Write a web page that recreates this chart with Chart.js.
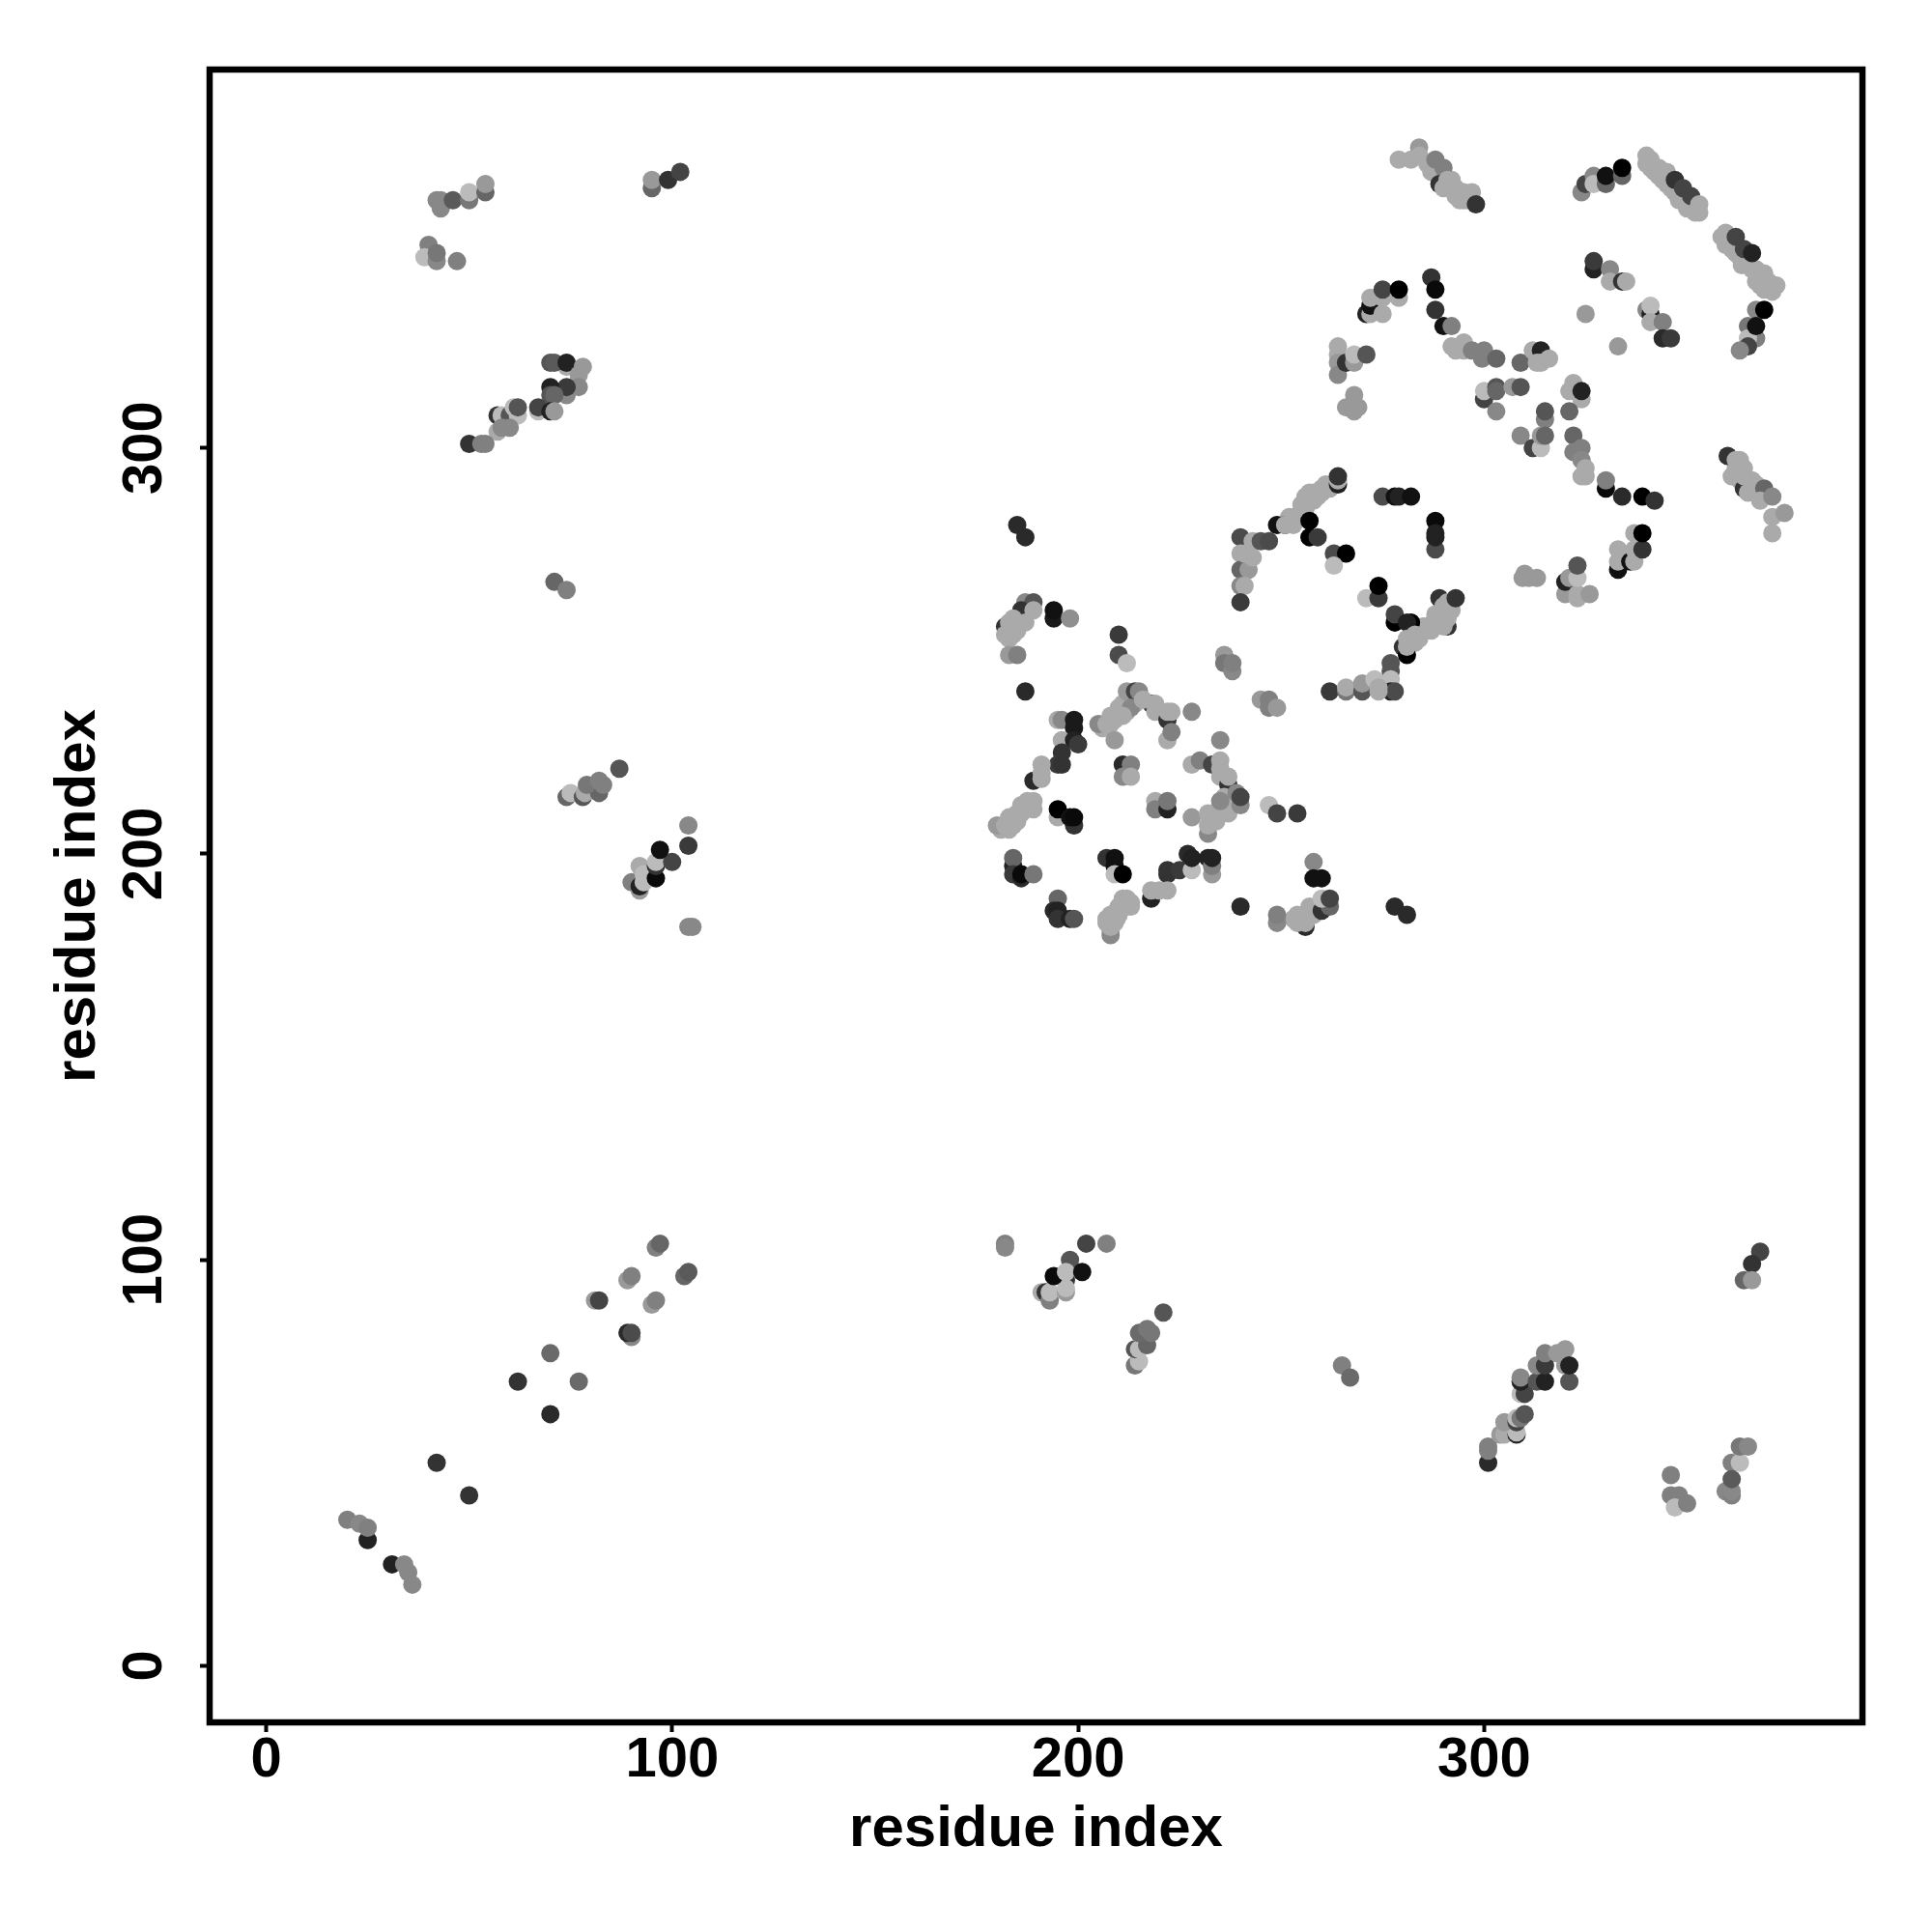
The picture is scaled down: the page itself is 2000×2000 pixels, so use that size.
<!DOCTYPE html>
<html><head><meta charset="utf-8">
<style>html,body{margin:0;padding:0;background:#fff}canvas{display:block}</style>
<script src="https://cdn.jsdelivr.net/npm/chart.js@4"></script>
</head><body>
<div style="width:2000px;height:2000px"><canvas id="c" width="2000" height="2000"></canvas></div>
<script>
// every contact: [residue i, residue j, grey level]
const denseBandContacts=[[291,256,51],[289,263,51],[290,257,34],
[341,371,170],[341,369,170],[343,367,170],[345,368,170],[345,365,170],[347,363,170],[349,361,170],[351,360,170],[353,358,170],
[360,351,170],[362,348,170],[363,347,170],[365,346,170],[367,344,170],[368,342,170],[370,341,170],[371,340,170],[371,338.5,170],[368,340,170],
[286,370,170],[288,368,170],[289,367,170],[291,365,170],[292,366,170],[293,364,170],[294,361,170],[295,361,170],
[362,295,170],[364,295,170],[363,292,170],[365,291,170],[366,290,170],[367,289,170],
[285,256,170],[286,256,170],[287,255,170],[288,257,170],[289,258,170],[290,259,170],[291,259,170],[291,261,170],[290,261,170],[291,258,170],
[282,252,170],[283,252,170],[284,253,170],
[255,284,170],[256,285,170],[258,287,170],[259,288,170],[260,289,170],[261,290,170],[262,290,170],[253,282,170],[252,283,170],
[181,206,170],[183,206,170],[185,208,170],[186,210,170],[187,211,170],[188,212,170],
[208,181,170],[207,183,170],[209,183,170],[208,185,170],[210,185,170],[210,187,170],[212,187,170],[212,188,170],[213,188,170],
[255,184,170],[255,183,170],[258,185,170],[259,187,170],[253,184,170],
[233,208,170],[235,210,170],[235,212,170],[237,210,170],[238,213,170],
[206,231,170],[208,232,170],[210,234,170],[212,235,170],[212,237,170],[211,237,170],[213,238,170],[214,237,170],
[184,256,170],[186,258,170],[184,254,170]];
const lowerLeftContacts=[[20,36,128],[23,35,136],[25,31,34],[25,34,128],[31,25,34],[34,25,136],[35,23,136],[36,20,136],
[42,50,51],[50,42,51],[62,70,51],[70,62,42],[70,77,106],[77,70,106],
[81,90,153],[82,90,68],[89,95,153],[90,96,128],[96,103,128],[97,104,102],[95,89,153],[96,90,128],[103,96,102],[104,97,90],[90,81,136],[89,82,42],[90,82,75]];
const lowerMiddleContacts=[[202,104,68],[207,104,128],[182,104,128],[182,103,136],[191,92,170],[192,92,51],[193,90,128],[193,92,187],[197,92,153],[197,95,51],[197,93,187],[194,96,10],[198,100,85],[197,97,187],[201,97,17],
[221,87,85],[214,74,119],[215,75,187],[214,78,85],[215,78,187],[217,79,102],[215,82,106],[217,83,119],[218,82,119],[265,74,128],[267,71,106]];
const lowerRightContacts=[[301,50,42],[301,53,128],[301,54,128],[304,57,153],[305,57,170],[308,57,34],[308,57.5,187],[305,60,153],[308,60,68],[308,61,187],[309,61,119],[310,62,85],
[309,67,187],[310,67,68],[309,70,34],[309,71,136],[313,70,85],[315,70,34],[313,74,136],[315,74,58],[315,77,128],[318,77,153],[320,78,153],[320,74,153],[321,70,85],[321,74,34],
[368,102,68],[366,99,51],[364,95,102],[366,95,153],
[346,47,128],[346,42,128],[348,42,128],[347,39,187],[350,40,128],[361,50,128],[363,50,187],[363,54,119],[365,54,136],[359.5,43,136],[361,42,128],[361,43,136],[361,46,90]];
const upperLeftContacts=[[42,361,136],[43,361,136],[43,359,136],[46,361,90],[50,361,119],[50,363,187],[54,363,102],[54,365,153],
[40,350,128],[39,347,187],[42,346,136],[42,348,119],[47,346,128],
[95,364,102],[95,366,153],[99,366,51],[102,368,68],
[74,320,170],[70,321,85],[71,321,90],[74,321,34],[78,320,153],[77,318,153],[77,315,136],[74,313,136],[74,315,58],[70,315,34],[70,313,85],[71,313,102],
[67,309,187],[67,310,68],[70,309,34],[71,309,153],
[57,308,51],[58,308,187],[60,308,85],[61,310,187],[62,308,187],[62,310,85],[57,304,170],[58,305,136],[60,305,136],
[50,301,51],[53,301,128],[54,301,128]];
const middleLeftContacts=[[71,267,102],[74,265,128],[87,221,85],
[74,214,102],[75,215,187],[78,214,85],[78.5,215,170],[82,215,102],[79,217,119],[82,218,128],[83,217,128],
[104,207,136],[104,202,58],[90,193,128],[92,191,153],[92,192,34],[93,193,187],[92,197,170],[93,195,187],[96,194,10],[96,197,51],[96,198,187],[100,198,68],[97,201,17],
[104,182,136],[105,182,136]];
const helixStarContacts=[[185,281,42],[187,278,42],
[187,262,136],[189,262,85],[186,260,51],[189,260,170],[194,258,26],[194,260,17],[198,258,143],
[182,256,51],[184,258,170],[187,257,170],[183,257,170],[182,254,170],[185,255,170],[183,253,170],[183,249,153],[185,249,128],
[210,254,58],[210,249,75],[212,247,187],[187,240,42],
[212,240,153],[214,240,68],[215,240,136],[205,232,136],[207,232,170],[208,234,170],[210,236,170],[209,233,170],[213,236,136],[211,234,170],[218,237,68],[216,238,170],[219,237,170],[219,235,170],[222,233,51],[222,235,170],[223,235,170],[228,235,136],[222,228,170],[223,230,128],[209,228,153],
[195,233,170],[196,233,136],[199,231,26],[199,233,26],[196,228,170],[199,228,34],[200,227,58],
[196,225,51],[195,222,58],[196,222,51],[191,222,170],[189,218,42],[191,220,170],[191,218.5,170],
[211,222,42],[213,222,128],[211,219,136],[213,219,170],
[235,228,136],[228,222,170],[230,223,128],[233,222,68],[235,223,170],[235,221,170],[235,219,170],[237,217,51],[237,219,170],
[232,205,136],[228,209,153],[232,207,170],[234,208,170],[232,210,170],[234,210,170],[236,211,170],[237,212,170],[236,214,170],[235,213,136],[240,212,136],[239,215,136],[240,214,68],
[247,212,187],[249,210,68],[254,210,58],
[219,213,170],[219,211,128],[222,211,34],[222,213,119],
[180,207,153],[182,207,170],[184,207,170],[183,209,170],[185,210,170],[186,212,170],[187.5,213,170],[189,213,170],[189,211,170],
[195,209,170],[195,211,0],[199,207,51],[198,209,17],[199,209,10],
[184,197,34],[184,199,102],[184,195,58],[186,194,42],[186,195,10],[189,195,119],
[207,199,51],[209,199,17],[209,197,17],[209,195,187],[211,195,0],
[222,195,51],[222,196,51],[225,196,58],[228,196,187],[227,200,42],[228,199,34],[232,199,34],[233,195,153],[233,197,128],[233,199,34],
[258,198,136],[258,194,17],[260,194,17],
[218,189,34],[218,191,170],[220,191,170],[222,191,170],
[208,180,136],[208,182,170],[207,184,170],[209.5,184,170],[209.5,186,170],[211,188,170],[211,189,170],[212,189,170],[213,187,170],
[195,189,102],[194,186,42],[195,186,34],[195,184,51],[198,184,34],[199,184,85],
[240,187,42],[249,183,136],[249,185,128],
[256,182,42],[254,183,170],[254,185,170],[256,183,170],[257,186,170],[257,187,170],[260,186,51],[262,187,102],[260,189,187],[262,189,68],
[278,187,42],[281,185,42]];
const helixRingContacts=[[240,278,75],[240,274,170],[240,270,102],[242,270,153],[240,266,136],[241,266,170],[240,262,58],[243,277,170],[241,274,170],[243,273,170],[245,277,85],[247,277,75],
[249,281,17],[251,281,58],[251,281,170],[253,283,170],[253,281,170],[255,286,170],[256,288,170],[257,288,170],[258,289,170],[260,290,170],[261,291,170],[264,291,34],[264,292,170],[257,289,170],[259,289,170],[264,293,51],
[257,282,0],[257,278,0],[259,278,58],[263,274,75],[266,274,0],[263,271,187],
[275,288,75],[278,288,17],[279,288,34],[282,288,17],
[288,282,10],[288,275,75],[288,278,34],[288,279,34],
[271,263,187],[274,263,58],[274,266,0],[278,257,0],[278,259,68],[282,257,0],[281,257,34],
[280,251,51],[281,249,0],[281,253,170],[283,254,170],[281,251,170],[287.5,257,170],[289.5,258,170],[288,259,170],[291,262,170],[292,260,170],[293,263,51],[290,256,170],
[277,247,85],[277,245,85],[277,243,187],[277,240,34],[278,240,75],
[262,240,58],[266,240,119],[266,241,170],[270,240,85],[270,242,153],[274,240,170],[273,243,187],[274,241,170],
[236,249,153],[236,247,119],[238,245,136],[238,247,128],
[245,238,153],[247,238,128],[247,236,128],[249,236,153]];
const upperRightArcContacts=[[279,371,170],[282,371,170],[284,374,153],[284,372,170],[287,368,170],[288,371,128],[290,369,128],[289,365,51],[291,366,170],[290,364,170],[292,364,170],[293,362,170],[295,363,170],[297,363,170],[296,361,170],[298,360,51],
[324,363,136],[325,365,68],[327,367,136],[327,365,187],[330,365,102],[330,367,17],[334,367,102],[334,369,0],
[340,372,170],[340,370,170],[342,368,170],[343,369,170],[344,366,170],[346,364,170],[347,366,51],[348,361,170],[349,364,68],[350,359,170],[351,362,68],[352,358,170],[353,360,170],
[358.5,352,170],[359.5,353,170],[359.5,350,170],[361,349,170],[362,352,68],[363.5,345,170],[364,349,68],[366,344,170],[366,348,34],[367,341,170],[369,343,170],[369,339,170],[370.5,339,170],[372,340,170],
[367,334,136],[369,334,0],[365,330,119],[367,327,128],[365,327,187],[365,325,68],[363,324,136],[367,330,17],
[327,344,34],[327,346,58],[331,344,136],[331,341,170],[334,341,51],[335,341,170],
[325,333,153],[333,325,153],
[340,334,136],[341,333,34],[341,335,187],[341,331,170],[344,331,128],[344,327,42],[346,327,58],
[360,298,51],[361,293,170],[362,297,170],[363,297,170],[364,290,51],[364,293,170],[365,289,170],[366,292,170],[367,291,170],[369,290,102],[368,287,170],[371,288,136],[371,283,170],[374,284,153],[371,279,170]];
const centerRightContacts=[[287,342,51],[288,339,10],[288,334,51],[290,330,17],[292,330,128],
[292,325,170],[293,324,170],[295,326,170],[295,324,170],[297,324,128],[300,324,128],[299.5,322,128],[303,322,102],
[309,321,102],[312,324,170],[314,324,34],[313,321,170],[314,321,170],[316,322,170],
[300,312,68],[300,314,187],[303,315,85],[303,314,102],[307,315,153],[309,315,85],[303,309,136],
[322,316,170],[321,314,170],[324,312,170],[324,314,34],[321,309,102],[315,307,128],[315,309,85],
[309,303,136],[312,300,68],[314,300,187],[314,303,153],[315,303,102],
[322,303,102],[322,299,128],[324,300,128],[324,297,136],[325,295,170],[324,293,170],[325,293,170],
[330,290,10],[330,292,128],[334,288,42],[339,288,0],[342,287,51],
[264,325,170],[264,323,170],[264,321,153],[264,318,136],[266,321,51],[268,321,153],[268,323,187],[271,323,85],
[266,310,153],[269,310,153],[268,313,153],[268,310,153],[268,309,153],
[271,333,34],[272,333,170],[272,335,17],[272,337,170],[275,333,170],[275,337,170],[275,339,68],[279,337,170],[279,339,0],
[333,270,17],[333,272,170],[333,275,170],[336,272,17],[337,272,170],[337,275,170],[337,279,170],[339,275,51],[339,279,0],
[309.5,268,153],[310,269,153],[311,268,153],[313,268,153],
[320,264,153],[320,267,34],[321,268,153],[323,263,170],[323,264,170],[323,268,187],[326,264,153],[323,271,85]];
const contactGroups=[denseBandContacts,lowerLeftContacts,lowerMiddleContacts,lowerRightContacts,upperLeftContacts,middleLeftContacts,helixStarContacts,helixRingContacts,upperRightArcContacts,centerRightContacts];
const tickValues=[0,100,200,300];
const axisTitle="residue index";
const points=contactGroups.flat();

const FONT="'Liberation Sans', Arial, sans-serif";
const frame={id:'frame',afterDatasetsDraw(ch){const a=ch.chartArea,c=ch.ctx;c.save();c.strokeStyle='#000';c.lineWidth=6.5;c.lineJoin='miter';c.strokeRect(a.left,a.top,a.right-a.left,a.bottom-a.top);c.restore();}};
const axis=(pos,size,tickPad)=>({
  type:'linear',position:pos,min:-13.93,max:393.2,
  afterFit(s){if(pos==='bottom')s.height=size;else s.width=size;},
  afterBuildTicks(s){s.ticks=tickValues.map(v=>({value:v}));},
  grid:{drawOnChartArea:false,drawTicks:true,tickLength:10,tickWidth:4,tickColor:'#000'},
  border:{display:false},
  ticks:{color:'#000',font:{family:FONT,weight:'bold',size:58,lineHeight:1},padding:tickPad,autoSkip:false,
    ...(pos==='left'?{minRotation:90,maxRotation:90,crossAlign:'center'}:{maxRotation:0,minRotation:0}),
    callback:v=>String(v)},
  title:{display:true,text:axisTitle,color:'#000',font:{family:FONT,weight:'bold',size:60,lineHeight:1.2},
    padding:pos==='bottom'?{top:0,bottom:70}:{top:45,bottom:0}}
});
new Chart(document.getElementById('c'),{
  type:'scatter',
  data:{datasets:[{data:points.map(p=>({x:p[0],y:p[1]})),
    pointRadius:9.5,pointBorderWidth:0,pointHoverRadius:9.5,
    pointBackgroundColor:points.map(p=>`rgb(${p[2]},${p[2]},${p[2]})`)}]},
  options:{responsive:false,animation:false,devicePixelRatio:1,
    layout:{padding:{top:72,right:72,left:0,bottom:0}},
    plugins:{legend:{display:false},tooltip:{enabled:false}},
    scales:{x:axis('bottom',217,1),y:axis('left',217,8)}},
  plugins:[frame]
});
</script>
</body></html>
